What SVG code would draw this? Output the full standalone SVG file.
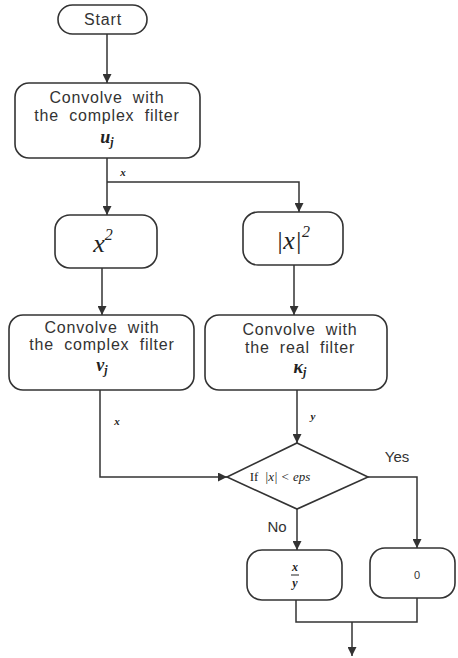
<svg xmlns="http://www.w3.org/2000/svg" width="458" height="658" viewBox="0 0 458 658">
<style>
.box{fill:#fff;stroke:#333;stroke-width:1.6}
.t{font-family:"Liberation Sans",Arial,sans-serif;font-size:16px;fill:#333;text-anchor:middle;letter-spacing:0.8px;word-spacing:5px}
.m{font-family:"Liberation Serif","Times New Roman",serif;font-style:italic;fill:#222;text-anchor:middle}
.c{fill:none;stroke:#333;stroke-width:1.5}
.lbl{font-family:"Liberation Sans",Arial,sans-serif;font-size:15px;fill:#333;text-anchor:middle}
</style>
<defs>
<marker id="ah" viewBox="0 0 10 10" refX="10" refY="5" markerWidth="9" markerHeight="9" markerUnits="userSpaceOnUse" orient="auto">
<path d="M0,0 L10,5 L0,10 z" fill="#333"/>
</marker>
</defs>
<g id="connectors">
<path class="c" d="M107,34 V83" marker-end="url(#ah)"/>
<path class="c" d="M107,158 V215" marker-end="url(#ah)"/>
<path class="c" d="M107,182 H299 V212" marker-end="url(#ah)"/>
<path class="c" d="M102,268 V315" marker-end="url(#ah)"/>
<path class="c" d="M294,265 V315" marker-end="url(#ah)"/>
<path class="c" d="M100,390 V477 H227" marker-end="url(#ah)"/>
<path class="c" d="M297,390 V443" marker-end="url(#ah)"/>
<path class="c" d="M368,477 H417 V548" marker-end="url(#ah)"/>
<path class="c" d="M297,509 V550" marker-end="url(#ah)"/>
<path class="c" d="M296,600 V622 H417 V598"/>
<path class="c" d="M352,622 V656" marker-end="url(#ah)"/>
<text class="m" x="123" y="176" font-size="11" font-weight="bold">x</text>
<text class="m" x="117" y="425" font-size="11" font-weight="bold">x</text>
<text class="m" x="313" y="420" font-size="11" font-weight="bold">y</text>
<text class="lbl" x="397" y="462">Yes</text>
<text class="lbl" x="277" y="532">No</text>
</g>
<g id="start">
<rect class="box" x="58" y="5" width="89" height="29" rx="14.5"/>
<text class="t" x="103" y="25" letter-spacing="1.5">Start</text>
</g>
<g id="conv_u">
<rect class="box" x="15" y="83" width="185" height="75" rx="14"/>
<text class="t" x="107" y="103">Convolve with</text>
<text class="t" x="107" y="121">the complex filter</text>
<text class="m" x="107" y="143" font-size="18" font-weight="bold">u<tspan font-size="12" dy="3">j</tspan></text>
</g>
<g id="square">
<rect class="box" x="55" y="215" width="102" height="53" rx="15"/>
<text class="m" x="103" y="252" font-size="26">x<tspan font-size="16" dy="-12">2</tspan></text>
</g>
<g id="abs_square">
<rect class="box" x="243" y="212" width="100" height="53" rx="15"/>
<text class="m" x="293" y="249" font-size="26">|x|<tspan font-size="16" dy="-12">2</tspan></text>
</g>
<g id="conv_v">
<rect class="box" x="9" y="315" width="185" height="75" rx="14"/>
<text class="t" x="102" y="333">Convolve with</text>
<text class="t" x="102" y="350">the complex filter</text>
<text class="m" x="102" y="371" font-size="18" font-weight="bold">v<tspan font-size="12" dy="3">j</tspan></text>
</g>
<g id="conv_k">
<rect class="box" x="205" y="315" width="182" height="75" rx="14"/>
<text class="t" x="300" y="335">Convolve with</text>
<text class="t" x="300" y="353">the real filter</text>
<text class="m" x="300" y="373" font-size="18" font-weight="bold">κ<tspan font-size="12" dy="3">j</tspan></text>
</g>
<g id="decision">
<path class="box" d="M297,443 L368,477 L297,509 L227,477 z"/>
<text x="280" y="481" font-family="Liberation Serif,serif" font-size="13" fill="#222" text-anchor="middle">If <tspan font-style="italic" dx="3">|x| &lt; eps</tspan></text>
</g>
<g id="ratio">
<rect class="box" x="247" y="550" width="95" height="50" rx="15"/>
<text class="m" x="295" y="571" font-size="12" font-weight="bold">x</text>
<line x1="291" y1="575" x2="299" y2="575" stroke="#222" stroke-width="1"/>
<text class="m" x="295" y="587" font-size="12" font-weight="bold">y</text>
</g>
<g id="zero">
<rect class="box" x="370" y="548" width="85" height="50" rx="15"/>
<text x="417" y="579" font-family="Liberation Sans,sans-serif" font-size="11" fill="#333" text-anchor="middle">0</text>
</g>
</svg>
